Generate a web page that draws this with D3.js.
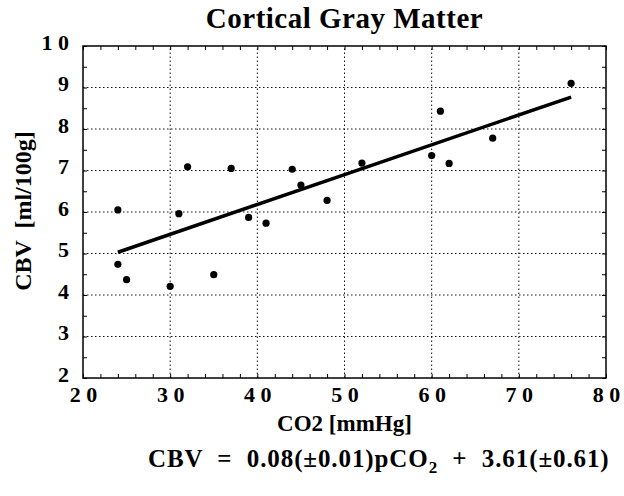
<!DOCTYPE html>
<html lang="en">
<head>
<meta charset="utf-8">
<title>Cortical Gray Matter</title>
<script src="https://d3js.org/d3.v7.min.js"></script>
<style>
  body { margin: 0; background: #fff; }
  svg text { font-family: "Liberation Serif", "Times New Roman", serif; font-weight: bold; fill: #000; }
</style>
</head>
<body>
<script>
// data
var co2 = [24, 24, 25, 30, 31, 32, 35, 37, 39, 41, 44, 45, 48, 52, 60, 61, 62, 67, 76];
var cbv = [6.05, 4.74, 4.37, 4.21, 5.96, 7.09, 4.49, 7.05, 5.87, 5.73, 7.03, 6.65, 6.28, 7.18, 7.36, 8.43, 7.17, 7.78, 9.1];
var fitX = [24, 76];
var fitY = [5.03, 8.77];
var xTicks = [20, 30, 40, 50, 60, 70, 80];
var yTicks = [2, 3, 4, 5, 6, 7, 8, 9, 10];
var xMinor = d3.range(20, 81, 2);
var yMinor = d3.range(2, 10.01, 0.5);

var w = 624, h = 496;
var margin = {left: 83, right: 18, top: 46, bottom: 118};

var svg = d3.select("body").append("svg").attr("width", w).attr("height", h);

var x = d3.scaleLinear().domain([20, 80]).range([margin.left, w - margin.right]);
var y = d3.scaleLinear().domain([2, 10]).range([h - margin.bottom, margin.top]);

var spaced = function(d) { return String(d).split("").join(" "); };

// grid
svg.append("g").selectAll("line").data(xTicks.slice(1, -1)).enter().append("line")
  .attr("x1", d => x(d)).attr("x2", d => x(d))
  .attr("y1", y(2)).attr("y2", y(10))
  .attr("stroke", "#111").attr("stroke-width", 1).attr("stroke-dasharray", "1.5,2.5");
svg.append("g").selectAll("line").data(yTicks.slice(1, -1)).enter().append("line")
  .attr("x1", x(20)).attr("x2", x(80))
  .attr("y1", d => y(d)).attr("y2", d => y(d))
  .attr("stroke", "#111").attr("stroke-width", 1).attr("stroke-dasharray", "1.5,2.5");

// inward ticks on all four sides
function ticks(axis, tx, ty) {
  var g = svg.append("g").attr("transform", "translate(" + tx + "," + ty + ")").call(axis);
  g.select(".domain").remove();
  g.selectAll("line").attr("stroke", "#000").attr("stroke-width", 1);
  return g;
}
ticks(d3.axisBottom(x).tickValues(xMinor).tickSize(-4).tickFormat(""), 0, y(2));
ticks(d3.axisTop(x).tickValues(xMinor).tickSize(-4).tickFormat(""), 0, y(10));
ticks(d3.axisLeft(y).tickValues(yMinor).tickSize(-4).tickFormat(""), x(20), 0);
ticks(d3.axisRight(y).tickValues(yMinor).tickSize(-4).tickFormat(""), x(80), 0);

// tick labels
var gx = ticks(d3.axisBottom(x).tickValues(xTicks).tickSize(0).tickFormat(spaced), 0, y(2));
gx.selectAll("text").attr("y", 24).attr("dy", 0).style("font-size", "22px").attr("font-family", null);
var gy = ticks(d3.axisLeft(y).tickValues(yTicks).tickSize(0).tickPadding(14).tickFormat(spaced), x(20), 0);
gy.selectAll("text").attr("dy", "0.15em").style("font-size", "22px").attr("font-family", null);

// frame
svg.append("rect")
  .attr("x", x(20)).attr("y", y(10))
  .attr("width", x(80) - x(20)).attr("height", y(2) - y(10))
  .attr("fill", "none").attr("stroke", "#000").attr("stroke-width", 1.5);

// fitted line
svg.append("line")
  .attr("x1", x(fitX[0])).attr("y1", y(fitY[0]))
  .attr("x2", x(fitX[1])).attr("y2", y(fitY[1]))
  .attr("stroke", "#000").attr("stroke-width", 3.5);

// points
svg.append("g").selectAll("circle").data(co2).enter().append("circle")
  .attr("cx", d => x(d)).attr("cy", (d, i) => y(cbv[i]))
  .attr("r", 3.6).attr("fill", "#000");

// titles
svg.append("text").attr("x", (x(20) + x(80)) / 2).attr("y", 27.5)
  .attr("text-anchor", "middle").style("font-size", "29px").style("letter-spacing", "0.5px")
  .text("Cortical Gray Matter");

svg.append("text").attr("x", (x(20) + x(80)) / 2).attr("y", 431)
  .attr("text-anchor", "middle").style("font-size", "23px")
  .style("white-space", "pre").text("CO2 [mmHg]");

svg.append("text").attr("transform", "translate(31,211) rotate(-90)")
  .attr("text-anchor", "middle").style("font-size", "24px").style("white-space", "pre")
  .text("CBV  [ml/100g]");

var eq = svg.append("text").attr("x", 148).attr("y", 467)
  .style("font-size", "25px").style("white-space", "pre").style("letter-spacing", "0.9px");
eq.append("tspan").text("CBV  =  0.08(\u00b10.01)pCO");
eq.append("tspan").attr("dy", 6).style("font-size", "17px").text("2");
eq.append("tspan").attr("dy", -6).text("  +  3.61(\u00b10.61)");
</script>
</body>
</html>
